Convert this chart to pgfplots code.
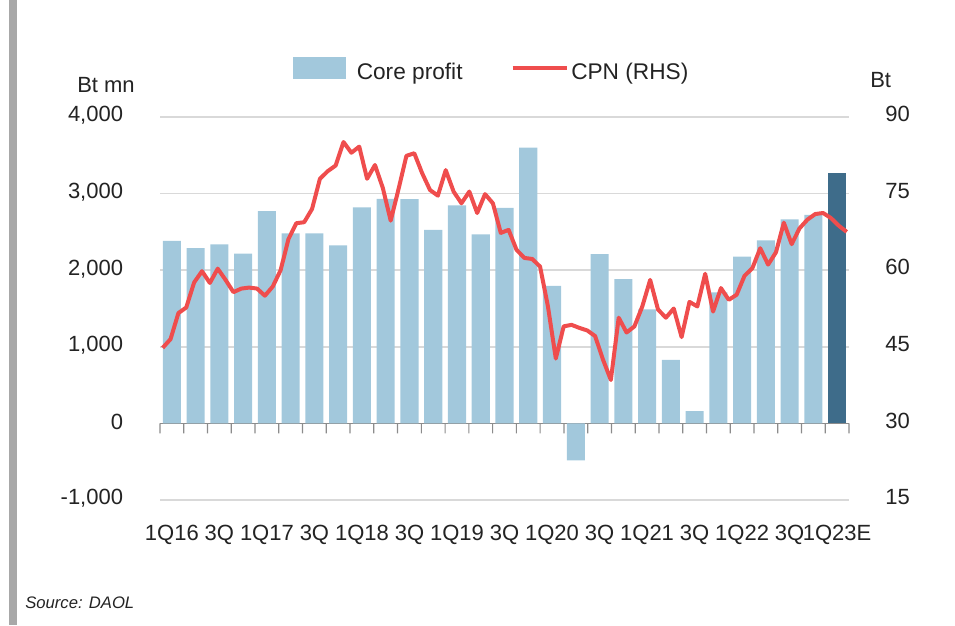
\documentclass[border=0pt]{standalone}
\usepackage{fontspec}
\setmainfont{Liberation Sans}
\usepackage{pgfplots}
\pgfplotsset{compat=1.18}
\definecolor{barblue}{RGB}{162,200,220}
\definecolor{bardark}{RGB}{62,108,138}
\definecolor{cpnred}{RGB}{239,77,77}
\definecolor{gridgray}{RGB}{217,217,217}
\definecolor{axisgray}{RGB}{140,140,140}
\definecolor{txt}{RGB}{35,35,35}
\definecolor{sidebar}{RGB}{168,168,168}
\newcommand{\lbl}{\fontsize{16.5}{19}\selectfont}
\newcommand{\lgd}{\fontsize{17}{19}\selectfont}
\pgfplotsset{
  every axis/.append style={
    tick label style={font=\lbl, text=txt},
  }
}
\begin{document}
\begin{tikzpicture}[font=\lbl, text=txt]
\path[use as bounding box] (0,0) rectangle (716.25pt,468.75pt);
\fill[sidebar] (6.75pt,0) rectangle (12.75pt,468.75pt);

\begin{axis}[
  at={(120pt,93.75pt)}, anchor=south west,
  width=516.75pt, height=287.25pt, scale only axis,
  xmin=-0.5, xmax=28.5, ymin=-1000, ymax=4000,
  axis x line*=bottom, axis y line*=left,
  x axis line style={draw=none}, y axis line style={draw=none},
  xtick={0,2,...,28},
  xticklabels={1Q16,3Q,1Q17,3Q,1Q18,3Q,1Q19,3Q,1Q20,3Q,1Q21,3Q,1Q22,3Q,1Q23E},
  xticklabel style={anchor=base, yshift=-30.4pt, inner sep=0pt},
  ytick={-1000,1000,2000,3000,4000},
  yticklabels={{-1,000},{1,000},{2,000},{3,000},{4,000}},
  extra y ticks={0}, extra y tick labels={0},
  extra y tick style={grid style={axisgray, line width=1pt}},
  yticklabel style={anchor=east, inner sep=0pt, xshift=-27.5pt, yshift=1pt},
  major tick length=0pt,
  ymajorgrids, grid style={gridgray, line width=1.1pt},
  clip=false,
]
\addplot[ybar, bar width=0.76, bar shift=0pt, fill=barblue, draw=none] coordinates {
(0,2384) (1,2289) (2,2336) (3,2215) (4,2771) (5,2480) (6,2480) (7,2323)
(8,2819) (9,2932) (10,2928) (11,2528) (12,2845) (13,2467) (14,2814) (15,3600)
(16,1794) (17,-482) (18,2211) (19,1885) (20,1490) (21,830) (22,161) (23,1711)
(24,2176) (25,2389) (26,2663) (27,2723)};
\addplot[ybar, bar width=0.76, bar shift=0pt, fill=bardark, draw=none] coordinates {(28,3270)};
% boundary tick marks below the zero line
\addplot[ybar, bar width=0.9pt, bar shift=0pt, fill=axisgray, draw=none] coordinates {
(-0.5,-130) (0.5,-130) (1.5,-130) (2.5,-130) (3.5,-130) (4.5,-130) (5.5,-130) (6.5,-130)
(7.5,-130) (8.5,-130) (9.5,-130) (10.5,-130) (11.5,-130) (12.5,-130) (13.5,-130) (14.5,-130)
(15.5,-130) (16.5,-130) (17.5,-130) (18.5,-130) (19.5,-130) (20.5,-130) (21.5,-130) (22.5,-130)
(23.5,-130) (24.5,-130) (25.5,-130) (26.5,-130) (27.5,-130) (28.5,-130)};
\end{axis}

\begin{axis}[
  at={(120pt,93.75pt)}, anchor=south west,
  width=516.75pt, height=287.25pt, scale only axis,
  xmin=-0.34, xmax=87.29, ymin=15, ymax=90,
  axis x line=none, axis y line*=right, y axis line style={draw=none},
  ytick={15,30,45,60,75,90}, major tick length=0pt,
  yticklabel style={anchor=west, inner sep=0pt, xshift=27pt, yshift=2.2pt},
  /pgf/number format/assume math mode=true,
  clip=false,
  legend style={at={(0.193,1.125)}, anchor=west, draw=none, fill=none,
    legend columns=2, inner sep=0pt, font=\lgd, text=txt,
    nodes={inner sep=0pt},
    /tikz/every odd column/.append style={column sep=1.5pt},
    /tikz/every even column/.append style={column sep=36pt}},
  legend cell align=left,
]
\addlegendimage{legend image code/.code={\fill[barblue] (0pt,-5pt) rectangle (39pt,11pt); \path (45.75pt,0pt);}}
\addplot[cpnred, line width=3pt, line join=round,
  legend image code/.code={\draw[cpnred, line width=3pt] (0pt,3pt) -- (41pt,3pt);}] coordinates {
(0,44.8) (1,46.5) (2,51.6) (3,52.7) (4,57.6) (5,59.8) (6,57.5) (7,60.3) (8,58.1) (9,55.7)
(10,56.4) (11,56.6) (12,56.4) (13,55.0) (14,56.8) (15,60.0) (16,66.1) (17,69.2) (18,69.4) (19,72.0)
(20,77.9) (21,79.4) (22,80.5) (23,85.1) (24,83.0) (25,84.2) (26,77.9) (27,80.6) (28,76.1) (29,69.7)
(30,75.9) (31,82.4) (32,82.9) (33,79.0) (34,75.7) (35,74.6) (36,79.6) (37,75.4) (38,73.1) (39,75.4)
(40,71.2) (41,74.9) (42,73.1) (43,67.3) (44,67.9) (45,64.0) (46,62.4) (47,62.2) (48,60.7) (49,52.9)
(50,42.7) (51,49.0) (52,49.3) (53,48.7) (54,48.2) (55,47.1) (56,42.5) (57,38.5) (58,50.7) (59,47.8)
(60,49.0) (61,52.9) (62,58.1) (63,52.3) (64,50.7) (65,52.5) (66,46.9) (67,53.8) (68,52.9) (69,59.3)
(70,51.9) (71,56.5) (72,54.2) (73,55.2) (74,58.9) (75,60.4) (76,64.3) (77,61.1) (78,63.5) (79,69.3)
(80,65.1) (81,68.2) (82,69.9) (83,71.0) (84,71.2) (85,70.2) (86,68.7) (87,67.5)};
\legend{Core profit, CPN (RHS)}
\end{axis}

\node[anchor=center] at (79.5pt,405pt) {Bt mn};
\node[anchor=west, inner sep=0pt] at (652.5pt,408.75pt) {Bt};
\node[anchor=west, inner sep=0pt, font=\fontsize{12.5}{14}\selectfont\itshape] at (18.75pt,16.5pt) {Source: DAOL};
\end{tikzpicture}
\end{document}
